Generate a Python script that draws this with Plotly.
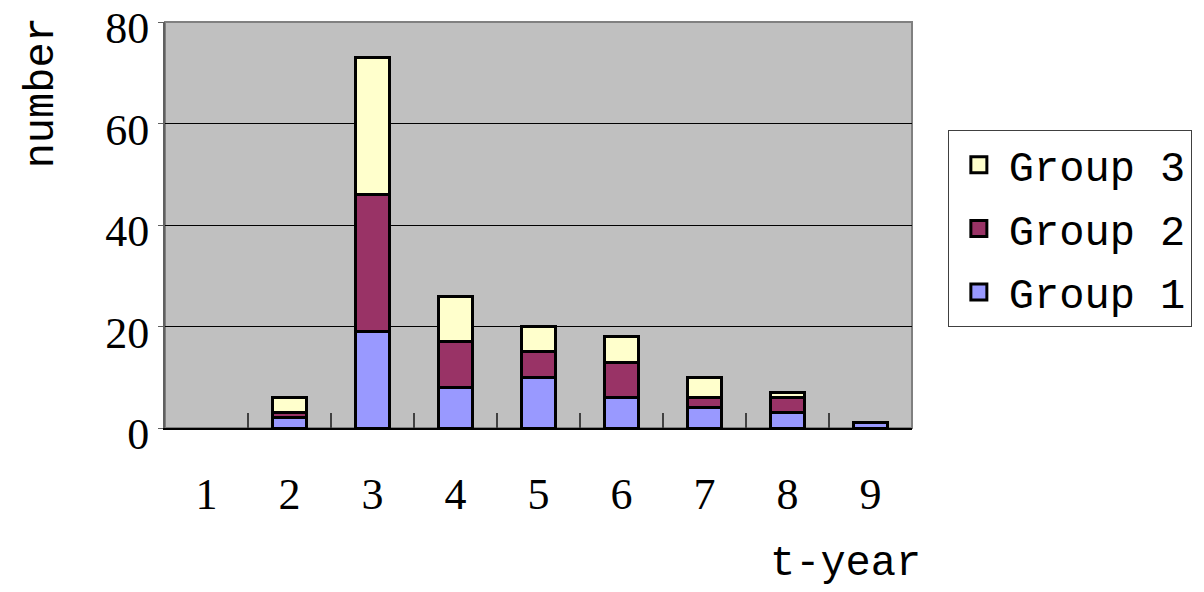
import plotly.graph_objects as go

years = ["1", "2", "3", "4", "5", "6", "7", "8", "9"]
group1 = [0, 2, 19, 8, 10, 6, 4, 3, 1]
group2 = [0, 1, 27, 9, 5, 7, 2, 3, 0]
group3 = [0, 3, 27, 9, 5, 5, 4, 1, 0]
y_ticks = [0, 20, 40, 60, 80]

colors = {"Group 1": "#9999FF", "Group 2": "#993366", "Group 3": "#FFFFCC"}

fig = go.Figure()
for name, vals in [("Group 1", group1), ("Group 2", group2), ("Group 3", group3)]:
    fig.add_trace(go.Bar(
        x=years, y=vals, name=name, showlegend=False,
        marker=dict(color=colors[name],
                    line=dict(color="black", width=[0 if v == 0 else 3 for v in vals])),
    ))
# legend entries (top to bottom: Group 3, Group 2, Group 1)
for name in ["Group 3", "Group 2", "Group 1"]:
    fig.add_trace(go.Scatter(
        x=[None], y=[None], name=name, mode="markers", legendgroup=name,
        marker=dict(symbol="square", size=26, color=colors[name],
                    line=dict(color="black", width=3)),
    ))

tick_font = dict(family="Liberation Serif", size=44, color="black")
text_font = dict(family="Liberation Mono", size=42, color="black")

fig.update_layout(
    width=1196, height=584,
    barmode="stack", bargap=0.6,
    plot_bgcolor="#C0C0C0", paper_bgcolor="white",
    margin=dict(l=157, r=292, t=14, b=164, autoexpand=False),
    showlegend=True,
    legend=dict(
        x=1.048, y=0.734, xanchor="left", yanchor="top",
        traceorder="grouped", tracegroupgap=6,
        itemsizing="trace", itemwidth=50,
        font=text_font,
        bordercolor="#404040", borderwidth=1,
        bgcolor="white",
    ),
    xaxis=dict(
        type="category", tickfont=tick_font, automargin=False,
        ticks="inside", tickson="boundaries", ticklen=15, tickcolor="#404040", tickwidth=2,
        showline=True, linecolor="black", linewidth=2,
        showgrid=False, ticklabelstandoff=26,
    ),
    yaxis=dict(
        range=[0, 80], tickvals=y_ticks, tickfont=tick_font, automargin=False,
        showgrid=True, gridcolor="black", gridwidth=1,
        showline=True, linecolor="#606060", linewidth=2,
        ticks="outside", ticklen=5, tickcolor="#606060",
        zeroline=False, ticklabeloverflow="allow", ticklabelshift=6,
    ),
    shapes=[dict(type="rect", xref="paper", yref="paper", x0=0, x1=1, y0=0, y1=1,
                 line=dict(color="#808080", width=2), layer="below")],
    annotations=[
        dict(text="t-year", xref="paper", yref="paper", x=1.015, y=-0.40,
             xanchor="right", yanchor="bottom", showarrow=False, font=text_font),
        dict(text="number", xref="paper", yref="paper", x=-0.165, y=1.017,
             xanchor="center", yanchor="top", textangle=-90, showarrow=False, font=text_font),
    ],
)

fig.write_html("out.html")
